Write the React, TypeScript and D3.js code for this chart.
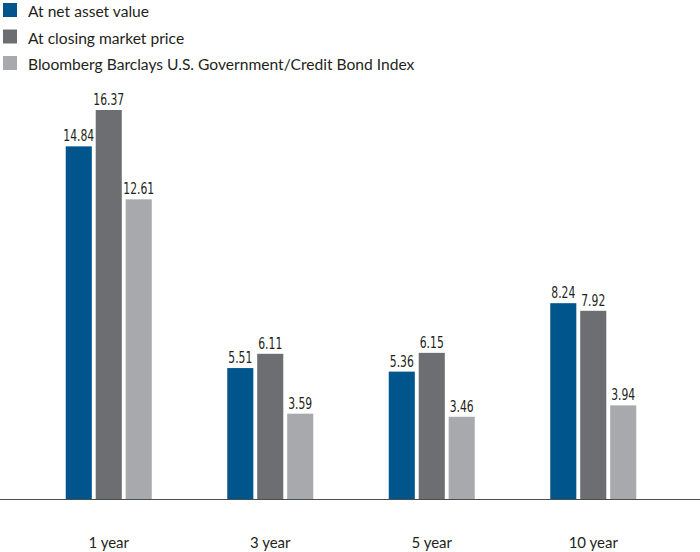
import * as d3 from "d3";
import { useEffect, useRef } from "react";

const periods = ["1 year", "3 year", "5 year", "10 year"];
const seriesNames = [
  "At net asset value",
  "At closing market price",
  "Bloomberg Barclays U.S. Government/Credit Bond Index",
];
const navValues = [14.84, 5.51, 5.36, 8.24];
const marketValues = [16.37, 6.11, 6.15, 7.92];
const indexValues = [12.61, 3.59, 3.46, 3.94];
const colors = ["#00558c", "#6d6e71", "#a7a9ac"];

export default function App() {
  const ref = useRef<SVGSVGElement | null>(null);

  useEffect(() => {
    const el = ref.current;
    if (!el) return;
    const svg = d3.select(el);
    svg.selectAll("*").remove();

    const W = 700;
    const H = 552;
    const base = 499;
    const series = [navValues, marketValues, indexValues];
    const labelFont = "'DejaVu Sans Condensed', 'DejaVu Sans', sans-serif";

    const x0 = d3.scaleBand().domain(periods).range([28, 674]).padding(0);
    const x1 = d3
      .scaleBand()
      .domain(seriesNames)
      .range([0, 86])
      .paddingInner(0.13)
      .paddingOuter(0);
    const y = d3.scaleLinear().domain([0, 16.37]).range([base, 110]);

    svg.attr("viewBox", `0 0 ${W} ${H}`).attr("width", W).attr("height", H);

    // legend
    const lg = svg.append("g");
    seriesNames.forEach((name, i) => {
      const yy = 3 + i * 26.5;
      lg.append("rect")
        .attr("x", 3)
        .attr("y", yy)
        .attr("width", 14)
        .attr("height", 14)
        .attr("fill", colors[i]);
      lg.append("text")
        .attr("x", 28)
        .attr("y", yy + 14)
        .attr("font-family", "Lato, 'Open Sans', sans-serif")
        .attr("font-size", 15.6)
        .attr("fill", "#231f20")
        .text(name);
    });

    const groups = svg
      .selectAll("g.grp")
      .data(periods)
      .join("g")
      .attr("class", "grp")
      .attr(
        "transform",
        (p) => `translate(${(x0(p) ?? 0) + x0.bandwidth() / 2 - 43},0)`,
      );

    groups.each(function (_p, gi) {
      const g = d3.select(this);
      seriesNames.forEach((s, si) => {
        const v = series[si][gi];
        const bx = x1(s) ?? 0;
        g.append("rect")
          .attr("x", bx)
          .attr("y", y(v))
          .attr("width", x1.bandwidth())
          .attr("height", base - y(v))
          .attr("fill", colors[si]);
        g.append("text")
          .attr(
            "transform",
            `translate(${bx + x1.bandwidth() / 2},${y(v) - 5}) scale(0.8,1)`,
          )
          .attr("text-anchor", "middle")
          .attr("font-family", labelFont)
          .attr("font-size", 15)
          .attr("fill", "#231f20")
          .text(v.toFixed(2));
      });
    });

    svg
      .append("line")
      .attr("x1", 0)
      .attr("x2", W)
      .attr("y1", base + 0.5)
      .attr("y2", base + 0.5)
      .attr("stroke", "#4d4d4f")
      .attr("stroke-width", 1.2);

    svg
      .append("g")
      .selectAll("text")
      .data(periods)
      .join("text")
      .attr("x", (p) => (x0(p) ?? 0) + x0.bandwidth() / 2)
      .attr("y", 548)
      .attr("text-anchor", "middle")
      .attr("font-family", "Lato, 'Open Sans', sans-serif")
      .attr("font-size", 15)
      .attr("fill", "#231f20")
      .text((p) => p);
  }, []);

  return (
    <div style={{ position: "absolute", left: 0, top: 0 }}>
      <svg ref={ref} style={{ display: "block" }} />
    </div>
  );
}
